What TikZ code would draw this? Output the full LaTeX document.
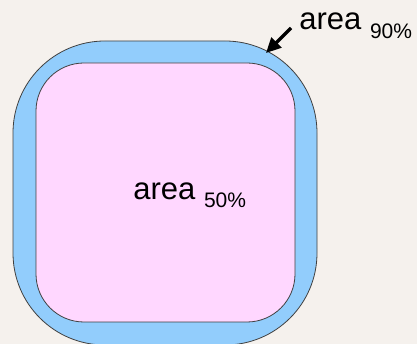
\documentclass[tikz,border=0pt]{standalone}
\usepackage{fontspec}
\setmainfont{Liberation Sans}
\usetikzlibrary{arrows.meta,positioning}
\definecolor{bgbeige}{HTML}{F5F1ED}
\definecolor{ringblue}{HTML}{92CDFC}
\definecolor{corepink}{HTML}{FFD7FF}
\tikzset{
    every node/.style={font=\fontsize{31}{31}\selectfont},
    area box/.style={draw=black!75,line width=0.8pt,inner sep=0pt}
}

\begin{document}
\begin{tikzpicture}[
            x = 1pt, y = 1pt,
            > = {Triangle[length=15pt,width=14pt]}, % arrow head style
            thick
        ]

        \fill[bgbeige] (0,0) rectangle (417,344);
        \useasboundingbox (0,0) rectangle (417,344);

        % outer and inner areas
        \node[area box,fill=ringblue,minimum width=304pt,minimum height=304pt,
              rounded corners=92pt] (outer) at (165,151) {};
        \node[area box,fill=corepink,minimum width=259pt,minimum height=259pt,
              rounded corners=48pt] (inner) at (165.5,151.5) {};

        % labels
        \node[inner sep=0pt,anchor=base west] (half) at (133,144)
            {area \raisebox{-8pt}{\fontsize{21}{21}\selectfont 50\%}};
        \node[inner sep=0pt,anchor=base west] (ninety) at (299,314)
            {area \raisebox{-9pt}{\fontsize{21}{21}\selectfont 90\%}};

        \coordinate (tail) at (291,316);
        \coordinate (tip) at (266,291);
        \draw[->,line width=3.2pt] (tail) -- (tip);

\end{tikzpicture}
\end{document}
